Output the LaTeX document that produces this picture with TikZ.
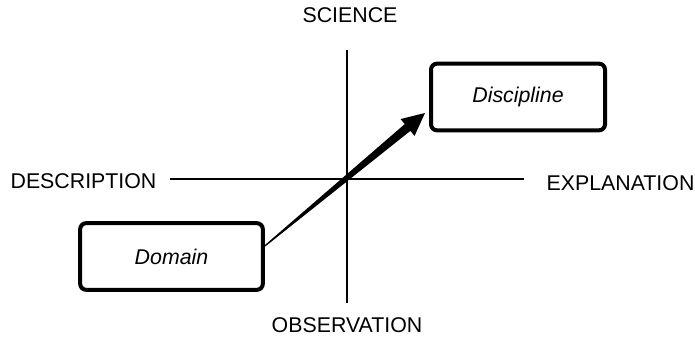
\documentclass[tikz,border=0pt]{standalone}
\usepackage{fontspec}
\setmainfont{Liberation Sans}
\usetikzlibrary{calc}

\begin{document}
\begin{tikzpicture}[x=0.75pt,y=-0.75pt,
	every node/.style={font=\fontsize{16}{19}\selectfont},
	axis/.style={line width=1.5pt},
	field/.style={draw,line width=3pt,rounded corners=4.5pt,font=\fontsize{16}{19}\selectfont\itshape}]
\useasboundingbox (0,0) rectangle (695,339);

\node (sci) at (350,15) {SCIENCE};
\node (obs) at (347,325) {OBSERVATION};
\node (des) at (83.5,181) {DESCRIPTION};
\node (exp) at (620.5,183) {EXPLANATION};

\coordinate (top) at (347,50);
\coordinate (bottom) at (347,303);
\coordinate (left) at (170,179);
\coordinate (right) at (524,179);
\draw[axis] (left) -- (right);
\draw[axis] (top) -- (bottom);

\node[field,minimum width=137pt,minimum height=50pt] (domain) at (171.5,256.5) {Domain};
\node[field,minimum width=130.5pt,minimum height=50pt] (discipline) at (518,97) {Discipline};

% tapered arrow from domain to discipline
\coordinate (s) at ([yshift=7.9pt]domain.east);
\coordinate (t) at ([xshift=-3pt,yshift=-12pt]discipline.west);
\coordinate (h) at ($(t)!17pt!(s)$);
\fill ($(s)!0.5pt!90:(t)$) -- ($(h)!3.3pt!90:(t)$) -- ($(h)!8.2pt!90:(t)$) -- (t)
	-- ($(h)!8.2pt!-90:(t)$) -- ($(h)!3.3pt!-90:(t)$) -- ($(s)!0.5pt!-90:(t)$) -- cycle;

\end{tikzpicture}
\end{document}
